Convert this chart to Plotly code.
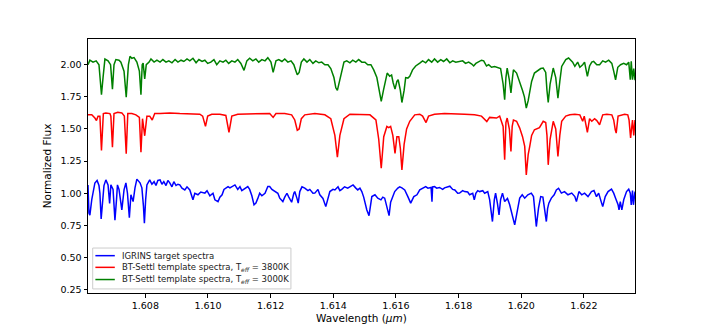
# plot.py
# IGRINS target spectrum vs BT-Settl templates (H band, normalized)

import plotly.graph_objects as go

# --- Дані ---
# IGRINS target spectra (blue)
wl_igrins = [
    1.60617, 1.60620, 1.60623, 1.60629, 1.60639, 1.60646, 1.60652, 1.60655, 1.60659, 1.60663,
    1.60668, 1.60674, 1.60681, 1.60686, 1.60690, 1.60697, 1.60703, 1.60708, 1.60711, 1.60716,
    1.60725, 1.60732, 1.60738, 1.60743, 1.60749, 1.60754, 1.60761, 1.60767, 1.60773, 1.60783,
    1.60789, 1.60794, 1.60797, 1.60801, 1.60805, 1.60814, 1.60821, 1.60828, 1.60834, 1.60840,
    1.60847, 1.60853, 1.60859, 1.60866, 1.60872, 1.60878, 1.60885, 1.60891, 1.60898, 1.60904,
    1.60910, 1.60917, 1.60926, 1.60933, 1.60942, 1.60952, 1.60958, 1.60968, 1.60977, 1.60990,
    1.60997, 1.61006, 1.61016, 1.61022, 1.61032, 1.61038, 1.61045, 1.61051, 1.61057, 1.61064,
    1.61070, 1.61076, 1.61086, 1.61095, 1.61102, 1.61108, 1.61118, 1.61127, 1.61133, 1.61140,
    1.61147, 1.61153, 1.61159, 1.61165, 1.61172, 1.61182, 1.61191, 1.61197, 1.61204, 1.61213,
    1.61223, 1.61229, 1.61239, 1.61245, 1.61252, 1.61258, 1.61267, 1.61274, 1.61277, 1.61284,
    1.61288, 1.61293, 1.61300, 1.61309, 1.61319, 1.61325, 1.61335, 1.61341, 1.61351, 1.61357,
    1.61367, 1.61376, 1.61383, 1.61389, 1.61399, 1.61405, 1.61415, 1.61421, 1.61427, 1.61436,
    1.61446, 1.61456, 1.61463, 1.61472, 1.61478, 1.61485, 1.61491, 1.61497, 1.61501, 1.61507,
    1.61514, 1.61519, 1.61523, 1.61533, 1.61542, 1.61552, 1.61558, 1.61564, 1.61571, 1.61578,
    1.61583, 1.61590, 1.61596, 1.61606, 1.61612, 1.61619, 1.61628, 1.61638, 1.61647, 1.61657,
    1.61667, 1.61676, 1.61685, 1.61695, 1.61702, 1.61708, 1.61712, 1.61715, 1.61717, 1.61723,
    1.61730, 1.61739, 1.61749, 1.61755, 1.61765, 1.61772, 1.61781, 1.61788, 1.61797, 1.61803,
    1.61813, 1.61819, 1.61829, 1.61835, 1.61845, 1.61850, 1.61855, 1.61861, 1.61867, 1.61877,
    1.61883, 1.61893, 1.61899, 1.61908, 1.61914, 1.61918, 1.61924, 1.61929, 1.61934, 1.61940,
    1.61947, 1.61956, 1.61963, 1.61971, 1.61979, 1.61986, 1.61995, 1.62003, 1.62011, 1.62021,
    1.62032, 1.62039, 1.62044, 1.62048, 1.62055, 1.62062, 1.62069, 1.62075, 1.62080, 1.62084,
    1.62088, 1.62096, 1.62105, 1.62112, 1.62119, 1.62128, 1.62138, 1.62149, 1.62161, 1.62171,
    1.62176, 1.62184, 1.62193, 1.62202, 1.62213, 1.62224, 1.62232, 1.62240, 1.62247, 1.62255,
    1.62260, 1.62268, 1.62277, 1.62288, 1.62295, 1.62301, 1.62309, 1.62312, 1.62316, 1.62321,
    1.62327, 1.62336, 1.62343, 1.62348, 1.62351, 1.62355, 1.62358, 1.62363,
]
flux_igrins = [
    1.065, 0.845, 0.830, 0.950, 1.080, 1.100, 1.060, 1.000, 0.800, 0.950,
    1.060, 1.104, 1.065, 0.920, 1.065, 1.030, 0.790, 0.950, 1.065, 1.030,
    0.870, 1.026, 1.080, 1.000, 0.810, 0.988, 0.935, 1.042, 1.110, 1.081,
    1.042, 0.900, 0.767, 0.950, 1.065, 1.104, 1.070, 1.090, 1.060, 1.100,
    1.104, 1.070, 1.090, 1.060, 1.100, 1.081, 1.050, 1.090, 1.060, 1.070,
    1.065, 1.040, 1.026, 1.050, 1.026, 0.949, 1.000, 0.988, 1.010, 1.001,
    1.020, 0.980, 1.000, 0.949, 0.935, 0.970, 0.988, 1.030, 1.042, 1.052,
    1.042, 1.050, 1.065, 1.030, 1.052, 1.020, 1.040, 1.052, 1.030, 0.980,
    0.910, 0.923, 0.960, 1.000, 0.980, 1.000, 1.052, 1.052, 1.030, 1.013,
    1.000, 0.962, 0.935, 0.970, 1.000, 0.970, 0.930, 1.000, 1.013, 0.960,
    0.923, 1.013, 1.050, 1.040, 1.020, 1.030, 1.000, 1.001, 1.030, 0.988,
    0.960, 0.896, 0.950, 1.013, 1.030, 1.026, 1.050, 1.020, 1.030, 1.050,
    1.040, 1.052, 1.065, 1.040, 1.026, 1.040, 1.013, 0.970, 0.923, 0.870,
    0.826, 0.930, 0.974, 0.988, 0.962, 0.949, 0.970, 0.962, 0.900, 0.826,
    0.930, 0.980, 1.013, 1.040, 1.050, 1.042, 1.026, 0.974, 0.923, 0.974,
    0.988, 1.026, 1.040, 1.052, 1.040, 1.042, 1.045, 0.935, 1.050, 1.052,
    1.040, 1.045, 1.030, 1.042, 1.050, 1.055, 1.030, 1.026, 1.000, 1.001,
    1.020, 1.013, 1.010, 0.988, 1.000, 0.949, 1.000, 1.020, 1.013, 1.020,
    1.000, 1.013, 0.950, 0.780, 0.950, 1.000, 0.920, 0.832, 0.950, 1.001,
    0.935, 0.960, 0.910, 0.819, 0.754, 0.845, 0.962, 0.988, 0.962, 0.988,
    1.001, 0.974, 0.850, 0.741, 0.884, 0.974, 0.970, 0.850, 0.780, 0.880,
    0.923, 0.962, 0.988, 1.026, 1.039, 1.001, 1.013, 0.988, 1.001, 0.974,
    0.935, 1.013, 0.988, 1.001, 0.974, 1.013, 1.021, 0.974, 1.001, 0.935,
    0.896, 0.974, 1.013, 1.032, 1.001, 0.962, 0.910, 0.871, 0.935, 0.871,
    0.949, 1.013, 1.032, 1.001, 0.910, 1.021, 0.910, 1.013,
]

# BT-Settl template, Teff = 3800K (red, offset)
wl_3800 = [
    1.60617, 1.60629, 1.60639, 1.60644, 1.60649, 1.60655, 1.60660, 1.60666, 1.60674, 1.60687,
    1.60690, 1.60695, 1.60700, 1.60712, 1.60725, 1.60733, 1.60739, 1.60744, 1.60757, 1.60770,
    1.60781, 1.60786, 1.60791, 1.60798, 1.60805, 1.60814, 1.60822, 1.60830, 1.60847, 1.60878,
    1.60910, 1.60942, 1.60974, 1.60983, 1.60992, 1.60999, 1.61012, 1.61038, 1.61057, 1.61067,
    1.61076, 1.61095, 1.61133, 1.61165, 1.61197, 1.61208, 1.61217, 1.61245, 1.61267, 1.61277,
    1.61285, 1.61291, 1.61298, 1.61309, 1.61341, 1.61373, 1.61392, 1.61405, 1.61413, 1.61421,
    1.61434, 1.61453, 1.61485, 1.61517, 1.61536, 1.61545, 1.61553, 1.61561, 1.61571, 1.61577,
    1.61583, 1.61590, 1.61597, 1.61603, 1.61609, 1.61614, 1.61619, 1.61626, 1.61634, 1.61644,
    1.61660, 1.61676, 1.61685, 1.61696, 1.61704, 1.61723, 1.61755, 1.61787, 1.61819, 1.61851,
    1.61873, 1.61890, 1.61899, 1.61921, 1.61931, 1.61942, 1.61947, 1.61951, 1.61955, 1.61962,
    1.61967, 1.61971, 1.61975, 1.61985, 1.61995, 1.62004, 1.62011, 1.62016, 1.62022, 1.62027,
    1.62033, 1.62042, 1.62058, 1.62070, 1.62078, 1.62082, 1.62086, 1.62092, 1.62102, 1.62110,
    1.62117, 1.62123, 1.62129, 1.62142, 1.62155, 1.62171, 1.62187, 1.62196, 1.62201, 1.62211,
    1.62218, 1.62225, 1.62234, 1.62241, 1.62250, 1.62260, 1.62273, 1.62289, 1.62295, 1.62300,
    1.62303, 1.62309, 1.62330, 1.62340, 1.62344, 1.62349, 1.62355, 1.62359, 1.62363,
]
flux_3800 = [
    1.610, 1.610, 1.585, 1.566, 1.600, 1.600, 1.333, 1.620, 1.625, 1.620,
    1.600, 1.359, 1.620, 1.630, 1.625, 1.600, 1.307, 1.620, 1.620, 1.610,
    1.590, 1.320, 1.580, 1.447, 1.600, 1.600, 1.570, 1.620, 1.620, 1.625,
    1.620, 1.620, 1.615, 1.600, 1.520, 1.600, 1.615, 1.615, 1.605, 1.473,
    1.600, 1.615, 1.615, 1.620, 1.620, 1.590, 1.620, 1.620, 1.610, 1.570,
    1.490, 1.500, 1.580, 1.610, 1.620, 1.610, 1.580, 1.450, 1.280, 1.450,
    1.580, 1.615, 1.615, 1.610, 1.570, 1.420, 1.195, 1.440, 1.520, 1.510,
    1.520, 1.450, 1.310, 1.440, 1.440, 1.350, 1.182, 1.380, 1.500, 1.560,
    1.610, 1.615, 1.600, 1.550, 1.600, 1.615, 1.620, 1.620, 1.615, 1.610,
    1.600, 1.558, 1.590, 1.585, 1.600, 1.520, 1.260, 1.550, 1.585, 1.500,
    1.325, 1.520, 1.570, 1.560, 1.507, 1.440, 1.364, 1.143, 1.300, 1.364,
    1.450, 1.494, 1.510, 1.560, 1.550, 1.450, 1.221, 1.420, 1.560, 1.500,
    1.286, 1.450, 1.560, 1.600, 1.610, 1.615, 1.610, 1.560, 1.600, 1.473,
    1.580, 1.560, 1.580, 1.565, 1.533, 1.610, 1.615, 1.610, 1.570, 1.494,
    1.468, 1.600, 1.615, 1.610, 1.570, 1.430, 1.570, 1.450, 1.570,
]

# BT-Settl template, Teff = 3000K (green, offset)
wl_3000 = [
    1.60617, 1.60623, 1.60633, 1.60643, 1.60652, 1.60656, 1.60660, 1.60665, 1.60671, 1.60681,
    1.60689, 1.60695, 1.60700, 1.60706, 1.60716, 1.60722, 1.60732, 1.60739, 1.60746, 1.60751,
    1.60757, 1.60764, 1.60773, 1.60781, 1.60786, 1.60790, 1.60793, 1.60798, 1.60803, 1.60812,
    1.60818, 1.60828, 1.60837, 1.60847, 1.60856, 1.60866, 1.60875, 1.60885, 1.60895, 1.60904,
    1.60914, 1.60923, 1.60933, 1.60942, 1.60952, 1.60962, 1.60971, 1.60981, 1.60990, 1.60999,
    1.61009, 1.61019, 1.61028, 1.61038, 1.61048, 1.61057, 1.61066, 1.61076, 1.61086, 1.61095,
    1.61105, 1.61115, 1.61124, 1.61133, 1.61143, 1.61153, 1.61162, 1.61172, 1.61182, 1.61191,
    1.61201, 1.61208, 1.61217, 1.61226, 1.61236, 1.61245, 1.61255, 1.61265, 1.61274, 1.61281,
    1.61285, 1.61291, 1.61298, 1.61306, 1.61316, 1.61325, 1.61335, 1.61344, 1.61354, 1.61363,
    1.61373, 1.61383, 1.61392, 1.61402, 1.61408, 1.61413, 1.61419, 1.61426, 1.61434, 1.61443,
    1.61453, 1.61462, 1.61472, 1.61481, 1.61491, 1.61501, 1.61510, 1.61520, 1.61529, 1.61539,
    1.61547, 1.61553, 1.61560, 1.61568, 1.61572, 1.61580, 1.61586, 1.61591, 1.61597, 1.61603,
    1.61607, 1.61614, 1.61619, 1.61626, 1.61631, 1.61638, 1.61644, 1.61653, 1.61663, 1.61676,
    1.61685, 1.61695, 1.61704, 1.61714, 1.61723, 1.61733, 1.61743, 1.61752, 1.61762, 1.61772,
    1.61781, 1.61791, 1.61803, 1.61813, 1.61822, 1.61832, 1.61842, 1.61848, 1.61855, 1.61864,
    1.61873, 1.61880, 1.61889, 1.61896, 1.61905, 1.61915, 1.61925, 1.61934, 1.61942, 1.61947,
    1.61951, 1.61955, 1.61962, 1.61967, 1.61972, 1.61975, 1.61985, 1.61995, 1.62004, 1.62010,
    1.62016, 1.62022, 1.62027, 1.62033, 1.62042, 1.62052, 1.62062, 1.62070, 1.62078, 1.62082,
    1.62086, 1.62092, 1.62102, 1.62110, 1.62117, 1.62123, 1.62129, 1.62142, 1.62151, 1.62164,
    1.62171, 1.62180, 1.62187, 1.62196, 1.62202, 1.62211, 1.62218, 1.62225, 1.62231, 1.62241,
    1.62250, 1.62260, 1.62269, 1.62279, 1.62289, 1.62295, 1.62301, 1.62308, 1.62317, 1.62327,
    1.62336, 1.62343, 1.62348, 1.62351, 1.62355, 1.62359, 1.62363,
]
flux_3000 = [
    2.000, 2.035, 2.020, 2.030, 2.000, 1.880, 1.766, 1.900, 2.044, 2.030,
    2.000, 1.810, 2.000, 2.040, 2.035, 2.020, 1.950, 1.748, 2.000, 2.065,
    2.050, 2.055, 2.020, 1.950, 1.766, 2.000, 2.013, 1.890, 2.000, 2.020,
    2.045, 2.020, 2.035, 2.020, 2.040, 2.020, 2.030, 2.015, 2.040, 2.020,
    2.035, 2.025, 2.045, 2.030, 2.050, 2.015, 2.040, 2.025, 2.035, 2.010,
    2.020, 2.040, 2.000, 2.030, 2.020, 2.035, 2.010, 2.030, 2.020, 2.040,
    2.010, 1.956, 2.030, 2.050, 2.030, 2.045, 2.020, 2.040, 2.030, 2.055,
    2.020, 1.940, 2.030, 2.040, 2.025, 2.045, 2.020, 2.030, 2.000, 1.950,
    1.922, 1.940, 2.020, 2.045, 2.020, 2.040, 2.010, 2.030, 2.015, 2.020,
    2.000, 2.000, 1.970, 1.900, 1.820, 1.800, 1.860, 1.950, 2.020, 2.030,
    2.015, 2.035, 2.020, 2.040, 2.020, 2.020, 2.000, 2.000, 1.960, 1.900,
    1.780, 1.714, 1.800, 1.900, 1.935, 1.910, 1.920, 1.860, 1.810, 1.870,
    1.883, 1.800, 1.706, 1.800, 1.900, 1.896, 1.910, 1.960, 1.990, 2.013,
    2.030, 2.015, 2.040, 2.020, 2.045, 2.020, 2.040, 2.025, 2.045, 2.015,
    2.030, 2.020, 2.026, 2.030, 2.010, 2.020, 2.005, 1.990, 2.010, 2.020,
    2.035, 2.030, 1.990, 2.000, 1.980, 1.985, 1.975, 1.970, 1.850, 1.727,
    1.900, 1.974, 1.880, 1.780, 1.900, 1.961, 1.935, 1.870, 1.800, 1.750,
    1.663, 1.720, 1.800, 1.870, 1.935, 1.950, 1.970, 1.974, 1.940, 1.800,
    1.706, 1.850, 1.974, 1.900, 1.740, 1.870, 1.987, 2.040, 2.052, 2.020,
    1.987, 2.020, 1.980, 2.000, 2.020, 1.910, 1.990, 2.020, 2.026, 2.000,
    2.000, 2.030, 2.020, 2.035, 2.010, 1.950, 1.883, 1.980, 2.000, 2.010,
    2.000, 2.020, 1.883, 2.026, 1.883, 1.970, 1.880,
]

# Підписи
legend_names = [
    "IGRINS target spectra",
    "BT-Settl template spectra, T<sub><i>eff</i></sub> = 3800K",
    "BT-Settl template spectra, T<sub><i>eff</i></sub> = 3000K",
]
colors = ["#0000ff", "#ff0000", "#008000"]
x_ticks = [1.608, 1.610, 1.612, 1.614, 1.616, 1.618, 1.620, 1.622]
y_ticks = [0.25, 0.50, 0.75, 1.00, 1.25, 1.50, 1.75, 2.00]

# --- Графік ---
fig = go.Figure()
series = [(wl_igrins, flux_igrins), (wl_3800, flux_3800), (wl_3000, flux_3000)]
for (wl, flux), name, color in zip(series, legend_names, colors):
    fig.add_trace(go.Scatter(
        x=wl, y=flux, mode="lines", name=name,
        line=dict(color=color, width=1.5), showlegend=False,
    ))

# Компактна легенда (як у matplotlib) у координатах paper
fig.add_shape(type="rect", xref="paper", yref="paper",
              x0=0.0086, x1=0.371, y0=0.016, y1=0.177,
              line=dict(color="#cccccc", width=1),
              fillcolor="rgba(255,255,255,0.8)", layer="above")
legend_rows = [0.147, 0.101, 0.053]
for name, color, yy in zip(legend_names, colors, legend_rows):
    fig.add_shape(type="line", xref="paper", yref="paper",
                  x0=0.0135, x1=0.049, y0=yy, y1=yy,
                  line=dict(color=color, width=1.5), layer="above")
    fig.add_annotation(xref="paper", yref="paper", x=0.0585, y=yy,
                       text=name, showarrow=False, xanchor="left", yanchor="middle",
                       font=dict(size=8.5, color="#222222"))

axis_style = dict(
    showline=True, linecolor="black", linewidth=1, mirror=True,
    ticks="outside", ticklen=3.5, tickcolor="black", tickwidth=1,
    showgrid=False, zeroline=False, automargin=False,
    tickfont=dict(size=9.5, color="black"),
)

fig.update_layout(
    width=706, height=330,
    margin=dict(l=88, r=71, t=39, b=37),
    plot_bgcolor="white", paper_bgcolor="white",
    font=dict(family="DejaVu Sans", color="black"),
    xaxis=dict(
        range=[1.60617, 1.62363], tickvals=x_ticks, tickformat=".3f",
        title=dict(text="Wavelength (<i>μm</i>)", font=dict(size=10.5), standoff=4),
        **axis_style,
    ),
    yaxis=dict(
        range=[0.224, 2.2], tickvals=y_ticks, tickformat=".2f",
        title=dict(text="Normalized Flux", font=dict(size=10.5), standoff=6),
        **axis_style,
    ),
    showlegend=False,
)

# прибираємо стандартний відступ body, щоб полотно стояло в (0, 0)
fig.write_html(
    "out.html",
    config={"displayModeBar": False},
    post_script="document.body.style.margin='0';",
)
print("✅ Збережено: out.html")
